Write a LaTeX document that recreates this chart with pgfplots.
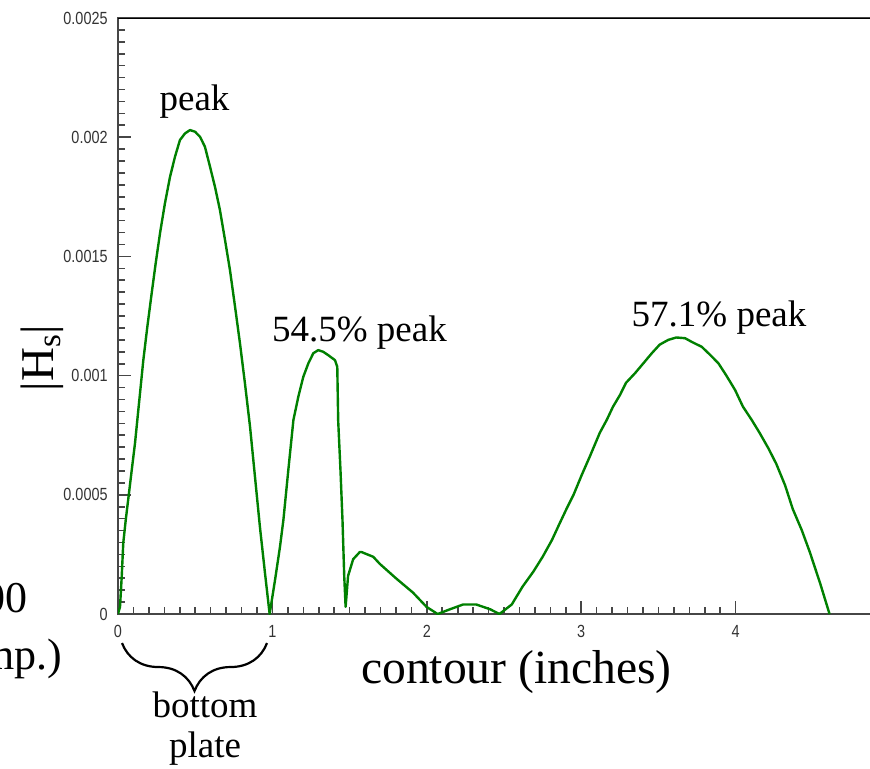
\documentclass[border=0pt]{standalone}
\usepackage{pgfplots}
\pgfplotsset{compat=1.18}
\usepackage{fontspec}
\setmainfont{Liberation Serif}
\newfontfamily\tickfont[FakeStretch=0.82]{Liberation Sans}
\usetikzlibrary{decorations.pathreplacing}
\definecolor{curvegreen}{RGB}{0,128,0}
\definecolor{axisgrey}{RGB}{70,70,70}

\begin{document}
\begin{tikzpicture}[x=0.5pt,y=-0.5pt]
\begin{axis}[
  at={(59pt,-307pt)}, anchor=south west,
  scale only axis, width=377pt, height=298pt,
  xmin=0, xmax=4.883, ymin=0, ymax=0.0025,
  xtick={0,1,2,3,4}, xticklabels={0,1,2,3,4},
  ytick={0,0.0005,0.001,0.0015,0.002,0.0025},
  yticklabels={0,0.0005,0.001,0.0015,0.002,0.0025},
  scaled y ticks=false,
  minor x tick num=9, minor y tick num=9,
  xtick pos=bottom, ytick pos=left, tick align=inside,
  major tick length=6.5pt, minor tick length=3.5pt,
  tick style={axisgrey, line width=0.8pt},
  axis line style={axisgrey, line width=1pt},
  tick label style={font=\tickfont\fontsize{8.8}{10}\selectfont, text=black!80, inner sep=0pt},
  yticklabel style={anchor=east, xshift=-5pt},
  xticklabel style={anchor=north, yshift=-5.5pt},
]
\addplot[curvegreen, line width=1.2pt, line join=round] coordinates {
(0.000,0.00000) (0.013,0.00003) (0.024,0.000156) (0.034,0.000297)
(0.050,0.000394) (0.067,0.000485) (0.089,0.000604) (0.110,0.000716)
(0.136,0.000884) (0.164,0.001065) (0.190,0.001205) (0.218,0.001345)
(0.244,0.001471) (0.272,0.001597) (0.304,0.001723) (0.337,0.001834)
(0.369,0.001918) (0.401,0.001988) (0.434,0.002016) (0.466,0.00203)
(0.499,0.002023) (0.531,0.002002) (0.563,0.00196) (0.596,0.001876)
(0.628,0.001792) (0.660,0.001695) (0.693,0.001569) (0.725,0.001443)
(0.758,0.001289) (0.790,0.001135) (0.822,0.000968) (0.855,0.000786)
(0.887,0.000576) (0.919,0.000366) (0.952,0.000171) (0.982,0.00000)
(1.017,0.000143) (1.049,0.000282) (1.071,0.000394) (1.103,0.000604)
(1.136,0.000814) (1.168,0.000912) (1.200,0.000995) (1.233,0.001052)
(1.265,0.001094) (1.297,0.001107) (1.329,0.001100) (1.361,0.001086)
(1.405,0.001065) (1.420,0.001037) (1.426,0.00081) (1.441,0.00060)
(1.454,0.00039) (1.465,0.00016) (1.474,0.00003) (1.490,0.00016)
(1.523,0.00023) (1.566,0.00026) (1.577,0.00026) (1.653,0.00024)
(1.696,0.00021) (1.800,0.00015) (1.910,0.00009) (1.998,0.00003)
(2.070,0.00000) (2.150,0.00002) (2.235,0.00004) (2.320,0.00004)
(2.410,0.00002) (2.470,0.00000) (2.550,0.00004) (2.620,0.000115)
(2.690,0.000178) (2.750,0.00024) (2.810,0.00031) (2.860,0.00038)
(2.906,0.000443) (2.950,0.00050) (3.003,0.000583) (3.055,0.00066)
(3.120,0.00076) (3.165,0.000814) (3.206,0.00087) (3.251,0.000919)
(3.290,0.00097) (3.348,0.00101) (3.400,0.00105) (3.457,0.001094)
(3.508,0.00113) (3.564,0.00115) (3.616,0.00116) (3.672,0.001157)
(3.720,0.00114) (3.780,0.001121) (3.830,0.00109) (3.888,0.001052)
(3.940,0.00100) (3.996,0.00094) (4.047,0.00087) (4.104,0.000814)
(4.155,0.00076) (4.212,0.000695) (4.263,0.00063) (4.320,0.00054)
(4.370,0.00044) (4.428,0.000352) (4.480,0.00026) (4.547,0.000129)
(4.608,0.00000)
};
% darker frame line along the top
\draw[black, line width=1.3pt] (rel axis cs:0,1) -- (rel axis cs:1,1);
\end{axis}

% annotations
\node[anchor=base, font=\fontsize{18.5}{22}\selectfont] at (194.5,110) {peak};
\node[anchor=base, font=\fontsize{18.5}{22}\selectfont] at (359.5,341) {54.5\% peak};
\node[anchor=base, font=\fontsize{18.5}{22}\selectfont] at (719,326) {57.1\% peak};
\node[anchor=base, font=\fontsize{23.8}{28}\selectfont] at (516.5,683) {contour (inches)};
\node[rotate=90, font=\fontsize{23.5}{28}\selectfont] at (42,358) {|H\textsubscript{s}|};

% bottom plate span
\draw[line width=1.1pt, decorate, decoration={brace, mirror, amplitude=24pt, aspect=0.5}]
  (122,643) -- (267,643);
\node[anchor=base, font=\fontsize{18.5}{22}\selectfont] at (205,717) {bottom};
\node[anchor=base, font=\fontsize{18.5}{22}\selectfont] at (205,757) {plate};

% neighbouring slide text running off the left edge
\node[anchor=base east, inner sep=0pt, font=\fontsize{22}{26}\selectfont] at (28,612) {100};
\node[anchor=base east, inner sep=0pt, font=\fontsize{22}{26}\selectfont] at (63,669) {(amp.)};

\pgfresetboundingbox
\path[use as bounding box] (0,0) rectangle (870,768);
\end{tikzpicture}
\end{document}
